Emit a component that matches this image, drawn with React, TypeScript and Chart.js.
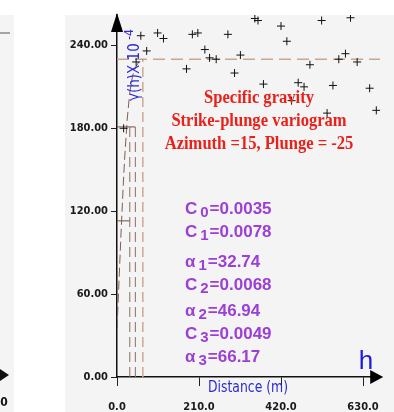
import React, { useEffect, useRef } from "react";
import { Chart, registerables } from "chart.js";

Chart.register(...registerables);

// Experimental semivariogram: lag distance (m) and γ(h) in units of 10⁻⁴
const lagDistance = [17, 49, 61, 76, 104, 119, 178, 193, 207, 225, 237, 254, 284, 301, 316, 353, 361, 375, 420, 435, 447, 464, 479, 494, 524, 538, 553, 568, 585, 598, 615, 647, 664];
const semivariance = [180, 228, 247, 236, 249, 245, 223, 248, 249, 237, 231, 230, 248, 220, 233, 259.5, 258, 212, 254, 243, 200, 213, 210, 226, 258, 191, 211, 230, 234, 260, 228, 209, 193];

// Nested spherical model: nugget, partial sills and ranges
const nuggetC0 = 0.0035;
const structureSills = [0.0078, 0.0068, 0.0049];
const structureRanges = [32.74, 46.94, 66.17];

// Fitted model curve (γ × 10⁻⁴)
const modelLag = [0, 4, 10, 16, 20, 26, 32.74, 40, 46.94, 56, 66.17];
const modelGamma = [35, 62, 102, 139, 160, 186, 206, 218, 224, 228, 230];

const xTickValues = [0, 210, 420, 630];
const yTickValues = [0, 60, 120, 180, 240];

const titleLines = ["Specific gravity", "Strike-plunge variogram", "Azimuth =15, Plunge = -25"];

const UNIT = 1e4; // γ axis is in 10⁻⁴
const X_MAX = 674;
const Y_MAX = 262;

const cumulative = (n: number) =>
  (nuggetC0 + structureSills.slice(0, n).reduce((a, b) => a + b, 0)) * UNIT;

const paramLabels = [
  { sym: "C", sub: "0", value: nuggetC0.toFixed(4) },
  { sym: "C", sub: "1", value: structureSills[0].toFixed(4) },
  { sym: "α", sub: "1", value: structureRanges[0].toFixed(2) },
  { sym: "C", sub: "2", value: structureSills[1].toFixed(4) },
  { sym: "α", sub: "2", value: structureRanges[1].toFixed(2) },
  { sym: "C", sub: "3", value: structureSills[2].toFixed(4) },
  { sym: "α", sub: "3", value: structureRanges[2].toFixed(2) },
];

const NARROW = "'Liberation Sans Narrow', 'DejaVu Sans Condensed', Arial, sans-serif";
const SANS = "'Liberation Sans', Arial, sans-serif";
const SERIF = "'Liberation Serif', 'Times New Roman', serif";

function scaledText(ctx: CanvasRenderingContext2D, text: string, x: number, y: number, sx: number) {
  ctx.save();
  ctx.translate(x, y);
  ctx.scale(sx, 1);
  ctx.fillText(text, 0, 0);
  ctx.restore();
}

const decor = {
  id: "decor",
  beforeDraw(chart: any) {
    const { ctx, width, height } = chart;
    ctx.save();
    ctx.fillStyle = "#ffffff";
    ctx.fillRect(0, 0, width, height);
    ctx.fillStyle = "#f4f4f4";
    ctx.fillRect(65, 15, width - 65, height - 15);
    // edge of the neighbouring panel
    ctx.fillRect(0, 15, 14, height - 15);
    ctx.strokeStyle = "#8a8a8a";
    ctx.lineWidth = 1.5;
    ctx.beginPath();
    ctx.moveTo(0, 33);
    ctx.lineTo(10, 33);
    ctx.stroke();
    ctx.fillStyle = "#111";
    ctx.beginPath();
    ctx.moveTo(0, 369);
    ctx.lineTo(9, 375);
    ctx.lineTo(0, 381);
    ctx.closePath();
    ctx.fill();
    ctx.font = `bold 12px ${NARROW}`;
    ctx.textAlign = "center";
    ctx.textBaseline = "middle";
    ctx.fillText("0", 4, 403);
    ctx.restore();
  },
  afterDraw(chart: any) {
    const { ctx, chartArea } = chart;
    const { left, right, top, bottom } = chartArea;
    ctx.save();
    // axis arrows
    ctx.fillStyle = "#000";
    ctx.beginPath();
    ctx.moveTo(left, top - 2);
    ctx.lineTo(left + 6, top + 17);
    ctx.lineTo(left - 6, top + 17);
    ctx.closePath();
    ctx.fill();
    ctx.strokeStyle = "#111";
    ctx.lineWidth = 1.5;
    ctx.beginPath();
    ctx.moveTo(right - 10, bottom);
    ctx.lineTo(right, bottom);
    ctx.stroke();
    ctx.beginPath();
    ctx.moveTo(right + 3, bottom);
    ctx.lineTo(right - 10, bottom - 7);
    ctx.lineTo(right - 10, bottom + 7);
    ctx.closePath();
    ctx.fill();

    // y-axis title, rotated
    ctx.save();
    ctx.translate(left + 18, 101);
    ctx.rotate(-Math.PI / 2);
    ctx.fillStyle = "#2b2bd6";
    ctx.font = `15px ${NARROW}`;
    ctx.textAlign = "left";
    ctx.textBaseline = "middle";
    const main = "γ(h)X 10";
    ctx.fillText(main, 0, 0);
    const w = ctx.measureText(main).width;
    ctx.font = `12px ${NARROW}`;
    ctx.fillText(" -4", w, -5);
    ctx.restore();

    // x-axis title and symbol
    ctx.fillStyle = "#2b2bd6";
    ctx.font = `15px ${NARROW}`;
    ctx.textAlign = "center";
    ctx.textBaseline = "middle";
    scaledText(ctx, "Distance (m)", 248, 388, 0.92);
    ctx.fillStyle = "#1c1cd8";
    ctx.font = `26px ${SANS}`;
    ctx.fillText("h", 366, 362);

    // description
    ctx.fillStyle = "#e8221b";
    ctx.font = `bold 18px ${SERIF}`;
    ctx.textAlign = "center";
    ctx.textBaseline = "middle";
    const titleY = [98, 121, 144];
    titleLines.forEach((t, i) => scaledText(ctx, t, 259, titleY[i], 0.92));

    // model parameters
    ctx.fillStyle = "#9b3fd6";
    ctx.textAlign = "left";
    ctx.textBaseline = "middle";
    const paramY = [209, 232, 262, 285, 311, 334, 357];
    paramLabels.forEach((p, i) => {
      let x = 185;
      const y = paramY[i];
      ctx.font = `bold 17px ${SANS}`;
      ctx.fillText(p.sym, x, y);
      x += ctx.measureText(p.sym).width + 3;
      ctx.font = `bold 15px ${SANS}`;
      ctx.fillText(p.sub, x, y + 4);
      x += ctx.measureText(p.sub).width + 1;
      ctx.font = `bold 17px ${SANS}`;
      ctx.fillText("=" + p.value, x, y);
    });
    ctx.restore();
  },
};

export default function App() {
  const canvasRef = useRef<HTMLCanvasElement | null>(null);

  useEffect(() => {
    const canvas = canvasRef.current;
    if (!canvas) return;

    const points = lagDistance.map((h, i) => ({ x: h, y: semivariance[i] }));
    const model = modelLag.map((h, i) => ({ x: h, y: modelGamma[i] }));
    const s1 = cumulative(1);
    const s2 = cumulative(2);
    const s3 = cumulative(3);

    const lineSet = (data: { x: number; y: number }[], color: string, width: number, dash: number[]) => ({
      data,
      showLine: true,
      borderColor: color,
      borderWidth: width,
      borderDash: dash,
      pointRadius: 0,
      fill: false,
      tension: 0,
    });

    const chart = new Chart(canvas, {
      type: "scatter",
      data: {
        datasets: [
          {
            data: points,
            pointStyle: "cross",
            pointRadius: 4,
            borderColor: "#111",
            backgroundColor: "#111",
            borderWidth: 1,
            showLine: false,
          },
          lineSet(model, "#7d5e50", 1, [9, 4]),
          lineSet([{ x: 0, y: s3 }, { x: X_MAX, y: s3 }], "#c9a68c", 1.5, [12, 6]),
          lineSet([{ x: structureRanges[2], y: 0 }, { x: structureRanges[2], y: s3 }], "#cfa992", 1.5, [10, 5]),
          lineSet([{ x: structureRanges[1], y: 0 }, { x: structureRanges[1], y: s2 }], "#8c6e62", 1, [10, 5]),
          lineSet([{ x: structureRanges[0], y: 0 }, { x: structureRanges[0], y: s2 }], "#8c6e62", 1, [10, 5]),
          lineSet([{ x: 0, y: s1 }, { x: structureRanges[0], y: s1 }], "#6e5048", 1, []),
          lineSet([{ x: 0, y: s2 }, { x: structureRanges[1], y: s2 }], "#6e5048", 1, []),
        ] as any,
      },
      options: {
        animation: false,
        responsive: false,
        devicePixelRatio: 1,
        layout: { padding: { top: 15, right: 4, left: 0, bottom: 0 } },
        plugins: { legend: { display: false }, tooltip: { enabled: false } },
        scales: {
          x: {
            type: "linear",
            min: 0,
            max: X_MAX,
            afterBuildTicks: (scale: any) => {
              scale.ticks = xTickValues.map((v) => ({ value: v }));
            },
            afterFit: (scale: any) => {
              scale.height = 35;
            },
            ticks: {
              callback: (v: any) => Number(v).toFixed(1),
              color: "#1a1a1a",
              font: { family: NARROW, size: 11, weight: "bold" },
              padding: 15,
              maxRotation: 0,
            },
            grid: { drawOnChartArea: false, drawTicks: true, tickLength: 9, color: "#222", lineWidth: 1 },
            border: { display: true, color: "#111", width: 1.5 },
          },
          y: {
            type: "linear",
            min: 0,
            max: Y_MAX,
            afterBuildTicks: (scale: any) => {
              scale.ticks = yTickValues.map((v) => ({ value: v }));
            },
            afterFit: (scale: any) => {
              scale.width = 117;
            },
            ticks: {
              callback: (v: any) => Number(v).toFixed(2),
              color: "#1a1a1a",
              font: { family: NARROW, size: 11, weight: "bold" },
              padding: 3,
            },
            grid: { drawOnChartArea: false, drawTicks: true, tickLength: 6, color: "#222", lineWidth: 1 },
            border: { display: true, color: "#111", width: 1.5 },
          },
        },
      } as any,
      plugins: [decor],
    });

    return () => chart.destroy();
  }, []);

  return (
    <div style={{ position: "fixed", left: 0, top: 0, width: 394, height: 412, background: "#fff" }}>
      <canvas ref={canvasRef} width={394} height={412} style={{ width: 394, height: 412, display: "block" }} />
    </div>
  );
}
